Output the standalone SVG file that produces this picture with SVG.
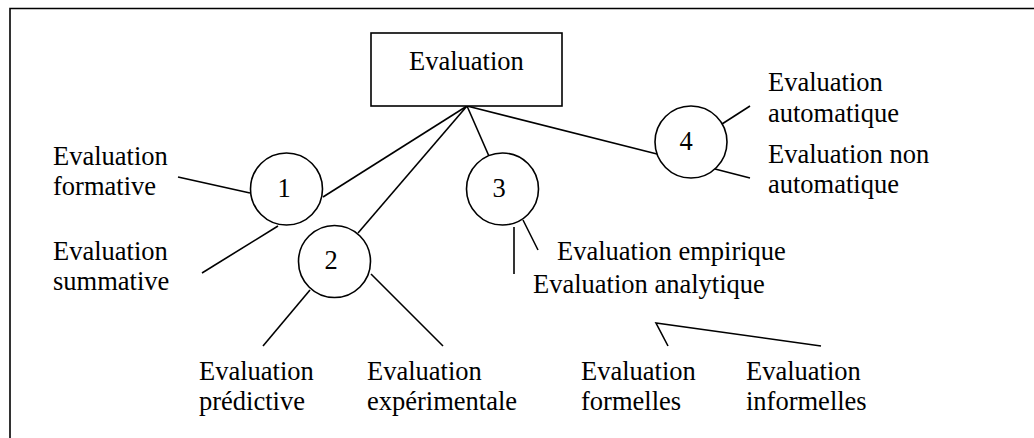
<svg xmlns="http://www.w3.org/2000/svg" width="1034" height="438" viewBox="0 0 1034 438">
<style>
text{font-family:"Liberation Serif","Times New Roman",serif;font-size:26.5px;fill:#000}
.n{text-anchor:middle}
.s{fill:none;stroke:#000;stroke-width:1.6}
.c{fill:#fff;stroke:#000;stroke-width:1.6}
</style>
<rect width="1034" height="438" fill="#fff"/>
<g id="frame"><path class="s" d="M10,440 V8.5 H1040" stroke-width="2.2"/></g>
<g id="connectors">
<line class="s" x1="467" y1="106" x2="323" y2="197"/>
<line class="s" x1="467" y1="106" x2="358" y2="233"/>
<line class="s" x1="467" y1="106" x2="492" y2="163"/>
<line class="s" x1="467" y1="106" x2="657" y2="154"/>
<line class="s" x1="178" y1="177" x2="250" y2="193"/>
<line class="s" x1="278" y1="226" x2="202" y2="273"/>
<line class="s" x1="310" y1="290" x2="263" y2="346"/>
<line class="s" x1="371" y1="274" x2="443" y2="346"/>
<line class="s" x1="514" y1="227" x2="514" y2="274"/>
<line class="s" x1="523" y1="220" x2="538" y2="250"/>
<line class="s" x1="722" y1="124" x2="750" y2="106"/>
<line class="s" x1="715" y1="169" x2="750" y2="178"/>
<polyline class="s" points="668,346 656,323 821,346"/>
</g>
<g id="root"><rect class="c" x="371" y="33" width="191" height="73"/><text x="409" y="70">Evaluation</text></g>
<g id="n1"><circle class="c" cx="286.5" cy="189" r="36"/><text class="n" x="284" y="197">1</text></g>
<g id="n2"><circle class="c" cx="334.5" cy="261.5" r="36"/><text class="n" x="331" y="269">2</text></g>
<g id="n3"><circle class="c" cx="502.5" cy="189" r="36"/><text class="n" x="499" y="197">3</text></g>
<g id="n4"><circle class="c" cx="691" cy="142" r="36"/><text class="n" x="686" y="150">4</text></g>
<g id="formative"><text x="53" y="165">Evaluation</text><text x="53" y="195">formative</text></g>
<g id="summative"><text x="53" y="260">Evaluation</text><text x="53" y="290">summative</text></g>
<g id="predictive"><text x="199" y="380">Evaluation</text><text x="199" y="410">prédictive</text></g>
<g id="experimentale"><text x="367" y="380">Evaluation</text><text x="367" y="410">expérimentale</text></g>
<g id="empirique"><text x="557" y="260">Evaluation empirique</text></g>
<g id="analytique"><text x="533" y="293">Evaluation analytique</text></g>
<g id="formelles"><text x="581" y="380">Evaluation</text><text x="581" y="410">formelles</text></g>
<g id="informelles"><text x="746" y="380">Evaluation</text><text x="746" y="410">informelles</text></g>
<g id="automatique"><text x="768" y="91">Evaluation</text><text x="768" y="122">automatique</text></g>
<g id="nonautomatique"><text x="768" y="163">Evaluation non</text><text x="768" y="193">automatique</text></g>
</svg>
